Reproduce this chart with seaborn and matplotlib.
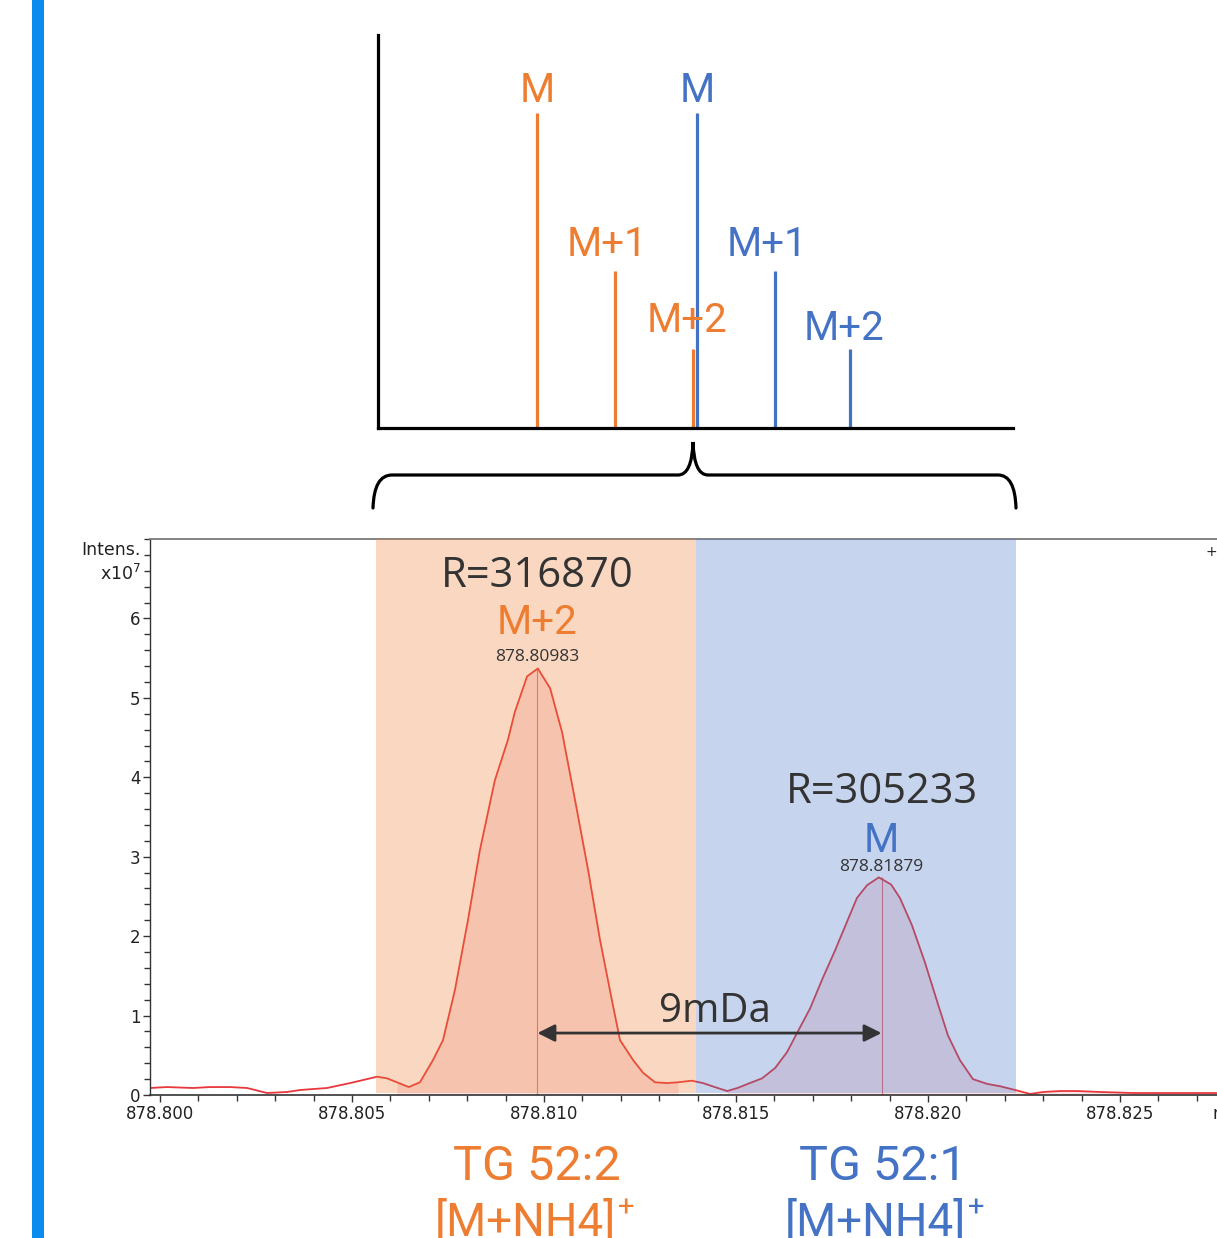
import matplotlib
matplotlib.use("Agg")
import matplotlib.pyplot as plt
from matplotlib.patches import PathPatch, Rectangle
from matplotlib.path import Path
from matplotlib.ticker import MultipleLocator, FormatStrFormatter, FixedLocator
import numpy as np
import seaborn as sns

sns.set_theme(style="white")
plt.rcParams["font.family"] = ["DejaVu Sans"]

W, H = 1217, 1238
ORANGE = "#ED7D31"
BLUE = "#4472C4"
DARK = "#333333"

# isotope pattern sketch (arbitrary units)
iso_labels = ["M", "M+1", "M+2"]
tg522_pos = [0.0, 1.0, 2.0]
tg521_pos = [2.05, 3.05, 4.01]
iso_height = [100, 50, 25]

# measured profile spectrum, intensity in x10^7
mz = [878.79974, 878.80018, 878.80086, 878.80130, 878.80182, 878.80227,
      878.80279, 878.80331, 878.80365, 878.80435, 878.80495, 878.80539,
      878.80565, 878.80591, 878.80617, 878.80648, 878.80677, 878.80711,
      878.80737, 878.80768, 878.80802, 878.80833, 878.80872, 878.80906,
      878.80924, 878.80956, 878.80984, 878.81016, 878.81047, 878.81081,
      878.81115, 878.81146, 878.81177, 878.81198, 878.81232, 878.81258,
      878.81289, 878.81320, 878.81349, 878.81385, 878.81414, 878.81451,
      878.81477, 878.81505, 878.81536, 878.81568, 878.81602, 878.81633,
      878.81659, 878.81693, 878.81724, 878.81758, 878.81789, 878.81815,
      878.81841, 878.81872, 878.81904, 878.81927, 878.81958, 878.81992,
      878.82023, 878.82052, 878.82083, 878.82117, 878.82154, 878.82188,
      878.82227, 878.82266, 878.82300, 878.82344, 878.82388, 878.82448,
      878.82534, 878.82786, 878.83000]
intens = [0.088, 0.10, 0.088, 0.10, 0.10, 0.088,
          0.025, 0.038, 0.063, 0.088, 0.15, 0.20,
          0.23, 0.21, 0.16, 0.10, 0.16, 0.44,
          0.69, 1.32, 2.20, 3.08, 3.96, 4.47,
          4.82, 5.27, 5.37, 5.12, 4.57, 3.71,
          2.83, 1.95, 1.19, 0.69, 0.44, 0.28,
          0.16, 0.15, 0.16, 0.18, 0.15, 0.09,
          0.05, 0.09, 0.15, 0.21, 0.34, 0.54,
          0.78, 1.09, 1.45, 1.82, 2.18, 2.48,
          2.64, 2.74, 2.65, 2.48, 2.14, 1.67,
          1.19, 0.75, 0.44, 0.20, 0.14, 0.11,
          0.063, 0.013, 0.038, 0.05, 0.05, 0.038,
          0.025, 0.025, 0.025]

peak_mz = [878.80983, 878.81879]
peak_int = [5.37, 2.74]
peak_res = ["R=316870", "R=305233"]
peak_iso = ["M+2", "M"]
peak_color = [ORANGE, BLUE]
window_tg522 = (878.80562, 878.81396)
window_tg521 = (878.81396, 878.82229)
compounds = ["TG 52:2", "TG 52:1"]
y_ticks = [0, 1, 2, 3, 4, 5, 6]


def box(x0, y0, x1, y1):
    """Pixel box (top-left origin) -> figure fraction rect."""
    return [x0 / W, 1 - y1 / H, (x1 - x0) / W, (y1 - y0) / H]


def fxy(x, y):
    return x / W, 1 - y / H


fig = plt.figure(figsize=(W / 100, H / 100), dpi=100)
fig.patch.set_facecolor("white")
fig.add_artist(Rectangle(fxy(32, H), 12 / W, 1, transform=fig.transFigure,
                         color="#0A8CEF", lw=0))

# ---- top: theoretical isotope sticks ----
top = fig.add_axes(box(378, 35, 1013, 428))
top.set_xlim(-2.04, 6.10)
top.set_ylim(0, 124.8)
top.vlines(tg522_pos, 0, iso_height, color=ORANGE, lw=2.3)
top.vlines(tg521_pos, 0, iso_height, color=BLUE, lw=2.3)
label_dx = [0, 0.1, 0.08]
orange_y = [103.5, 54.6, 30.5]
blue_y = [103.5, 54.6, 27.9]
for lab, p, dx, y in zip(iso_labels, tg522_pos, label_dx, orange_y):
    top.text(p - dx, y, lab, color=ORANGE, fontsize=29, family="Roboto",
             ha="center", va="baseline")
for lab, p, dx, y in zip(iso_labels, tg521_pos, label_dx, blue_y):
    top.text(p - dx, y, lab, color=BLUE, fontsize=29, family="Roboto",
             ha="center", va="baseline")
top.set_xticks([])
top.set_yticks([])
top.set_facecolor("none")
for side in ["top", "right"]:
    top.spines[side].set_visible(False)
for side in ["left", "bottom"]:
    top.spines[side].set_color("black")
    top.spines[side].set_linewidth(2.3)

# ---- brace ----
pts = [(373, 508), (374, 475), (392, 475), (678, 475), (692, 475), (693, 442),
       (694, 475), (708, 475), (998, 475), (1015, 475), (1016, 508)]
codes = [Path.MOVETO, Path.CURVE3, Path.CURVE3, Path.LINETO, Path.CURVE3, Path.CURVE3,
         Path.CURVE3, Path.CURVE3, Path.LINETO, Path.CURVE3, Path.CURVE3]
brace = Path([fxy(x, y) for x, y in pts], codes)
fig.add_artist(PathPatch(brace, transform=fig.transFigure, fill=False,
                         lw=2.3, color="black", capstyle="round"))

# ---- bottom: measured spectrum ----
ax = fig.add_axes(box(150, 539, 1300, 1095))
x0 = 878.79974
ax.set_xlim(x0, x0 + 1150 / 38400)
ax.set_ylim(0, 7.0)

mz_arr = np.array(mz)
in_arr = np.array(intens)
ax.fill_between(mz_arr, in_arr, where=(mz_arr >= 878.80615) & (mz_arr <= 878.81352),
                color="#FAE3E5", lw=0, zorder=1)
ax.fill_between(mz_arr, in_arr, where=(mz_arr >= 878.81477),
                color="#FAE3E5", lw=0, zorder=1)
ax.vlines(peak_mz, 0, peak_int, color="#EE7070", lw=0.8, zorder=1.5)
sns.lineplot(x=mz, y=intens, color="#E8383D", lw=1.3, ax=ax, sort=False,
             estimator=None, zorder=2)

ax.axvspan(*window_tg522, ymin=0.004, color=ORANGE, alpha=0.3, lw=0, zorder=3)
ax.axvspan(*window_tg521, ymin=0.004, color=BLUE, alpha=0.3, lw=0, zorder=3)

res_y = [6.39, 3.67]
iso_y = [5.80, 3.06]
mass_y = [5.46, 2.82]
for i in range(2):
    ax.text(peak_mz[i], res_y[i], peak_res[i], color=DARK, fontsize=30,
            family="Open Sans", ha="center", va="baseline", zorder=5)
    ax.text(peak_mz[i], iso_y[i], peak_iso[i], color=peak_color[i], fontsize=29,
            family="Roboto", ha="center", va="baseline", zorder=5)
    ax.text(peak_mz[i], mass_y[i], f"{peak_mz[i]:.5f}", color=DARK, fontsize=12.5,
            family="Open Sans", ha="center", va="baseline", zorder=5)

ax.annotate("", xy=(peak_mz[1], 0.78), xytext=(peak_mz[0], 0.78),
            arrowprops=dict(arrowstyle="<|-|>", color=DARK, lw=2,
                            mutation_scale=26, shrinkA=0, shrinkB=0), zorder=6)
ax.text(878.81445, 0.92, "9mDa", color=DARK, fontsize=29, family="Open Sans",
        ha="center", va="baseline", zorder=6)

ax.xaxis.set_major_locator(MultipleLocator(0.005))
ax.xaxis.set_minor_locator(MultipleLocator(0.001))
ax.xaxis.set_major_formatter(FormatStrFormatter("%.3f"))
ax.yaxis.set_major_locator(FixedLocator(y_ticks))
ax.yaxis.set_minor_locator(MultipleLocator(0.2))
ax.tick_params(which="both", direction="out", color=DARK, width=1,
               labelsize=12, labelcolor="#222222", pad=2)
ax.tick_params(which="major", length=5)
ax.tick_params(which="minor", length=4)
ax.tick_params(axis="x", which="both", bottom=True, top=False)
ax.tick_params(axis="y", which="both", left=True, right=False)
ax.grid(False)
ax.set_facecolor("white")
ax.spines["top"].set_color("#7a7a7a")
ax.spines["top"].set_linewidth(1.3)
ax.spines["right"].set_visible(False)
ax.spines["left"].set_color(DARK)
ax.spines["left"].set_linewidth(1)
ax.spines["bottom"].set_color(DARK)
ax.spines["bottom"].set_linewidth(1.2)

fig.text(*fxy(141, 555), "Intens.", ha="right", va="baseline", fontsize=12.5,
         color="#222222")
fig.text(*fxy(141, 580), "x10$^{7}$", ha="right", va="baseline", fontsize=12.5,
         color="#222222")
fig.text(*fxy(1211, 552), "+", ha="center", va="center", fontsize=10, color="#222222")
fig.text(*fxy(1212, 1119), "m/z", ha="left", va="baseline", fontsize=12,
         color="#222222")

# ---- compound labels ----
for cx, name, col, br in [(537, compounds[0], ORANGE, 616), (883, compounds[1], BLUE, 966)]:
    fig.text(*fxy(cx, 1180), name, color=col, fontsize=35, family="Roboto",
             ha="center", va="baseline")
    fig.text(*fxy(br, 1236), "[M+NH4]", color=col, fontsize=33, family="Roboto",
             ha="right", va="baseline")
    fig.text(*fxy(br + 2, 1217), "+", color=col, fontsize=21, family="Roboto",
             ha="left", va="baseline")

fig.savefig("out.png", dpi=100)
